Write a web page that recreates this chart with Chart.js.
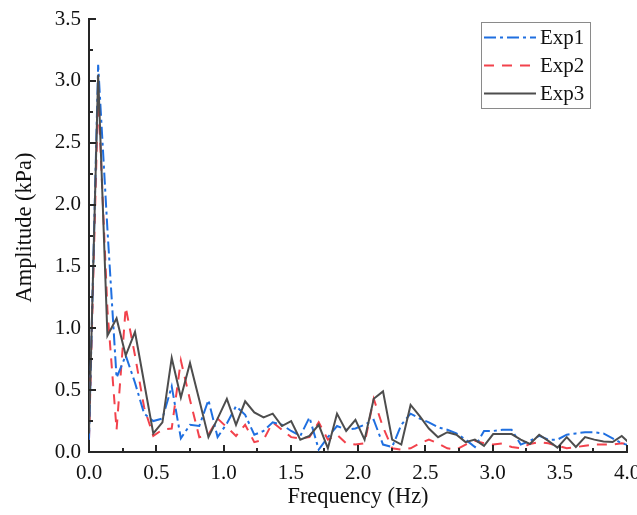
<!DOCTYPE html>
<html>
<head>
<meta charset="utf-8">
<script src="https://cdn.jsdelivr.net/npm/chart.js@4/dist/chart.umd.min.js"></script>
<style>
  html, body { margin: 0; padding: 0; background: #ffffff; }
  #wrap { width: 637px; height: 515px; }
</style>
</head>
<body>
<div id="wrap"><canvas id="c" width="637" height="515"></canvas></div>
<script>
// Frequency bins (Hz) of the amplitude spectra
const freq = [
  0.000, 0.068, 0.137, 0.205, 0.273, 0.342, 0.410, 0.478, 0.546, 0.615,
  0.683, 0.751, 0.820, 0.888, 0.956, 1.025, 1.093, 1.161, 1.229, 1.298,
  1.366, 1.434, 1.503, 1.571, 1.639, 1.708, 1.776, 1.844, 1.912, 1.981,
  2.049, 2.117, 2.186, 2.254, 2.322, 2.391, 2.459, 2.527, 2.595, 2.664,
  2.732, 2.800, 2.869, 2.937, 3.005, 3.074, 3.142, 3.210, 3.278, 3.347,
  3.415, 3.483, 3.552, 3.620, 3.688, 3.757, 3.825, 3.893, 3.961, 4.030
];

// Amplitude (kPa) per experiment
const exp1 = [
  0.10, 3.13, 1.80, 0.60, 0.78, 0.56, 0.31, 0.25, 0.27, 0.53,
  0.11, 0.22, 0.21, 0.42, 0.12, 0.23, 0.37, 0.30, 0.14, 0.17,
  0.24, 0.22, 0.17, 0.13, 0.28, 0.02, 0.12, 0.21, 0.18, 0.19,
  0.22, 0.26, 0.06, 0.04, 0.22, 0.31, 0.27, 0.24, 0.20, 0.18,
  0.15, 0.10, 0.04, 0.17, 0.17, 0.18, 0.18, 0.06, 0.09, 0.13,
  0.10, 0.10, 0.14, 0.15, 0.16, 0.16, 0.15, 0.11, 0.07, 0.05
];
const exp2 = [
  0.10, 2.90, 1.15, 0.18, 1.17, 0.78, 0.36, 0.13, 0.18, 0.19,
  0.74, 0.42, 0.12, 0.14, 0.27, 0.20, 0.13, 0.22, 0.08, 0.10,
  0.24, 0.18, 0.12, 0.11, 0.12, 0.24, 0.10, 0.14, 0.07, 0.06,
  0.07, 0.43, 0.20, 0.03, 0.02, 0.03, 0.07, 0.10, 0.07, 0.03,
  0.02, 0.06, 0.09, 0.07, 0.06, 0.07, 0.04, 0.03, 0.065, 0.08,
  0.07, 0.05, 0.03, 0.04, 0.05, 0.06, 0.06, 0.06, 0.07, 0.06
];
const exp3 = [
  0.15, 3.05, 0.94, 1.08, 0.78, 0.97, 0.56, 0.15, 0.24, 0.76,
  0.44, 0.72, 0.42, 0.12, 0.27, 0.43, 0.22, 0.41, 0.32, 0.28,
  0.31, 0.21, 0.25, 0.10, 0.13, 0.22, 0.03, 0.31, 0.17, 0.26,
  0.10, 0.43, 0.49, 0.10, 0.06, 0.38, 0.29, 0.19, 0.12, 0.16,
  0.14, 0.08, 0.10, 0.05, 0.145, 0.145, 0.145, 0.10, 0.065, 0.14,
  0.09, 0.035, 0.12, 0.04, 0.12, 0.10, 0.085, 0.08, 0.13, 0.06
];

const seriesNames = ['Exp1', 'Exp2', 'Exp3'];
const xTitle = 'Frequency (Hz)';
const yTitle = 'Amplitude (kPa)';
const xRange = [0, 4.0];
const yRange = [0, 3.5];

const toPoints = ys => ys.map((y, i) => ({ x: freq[i], y }));

const FONT = "'Liberation Serif', 'Times New Roman', serif";
const AXIS_COLOR = '#262626';
const TEXT_COLOR = '#111111';

// Inward major/minor tick marks on both axes
const innerTicks = {
  id: 'innerTicks',
  afterDraw(chart) {
    const { ctx, chartArea } = chart;
    ctx.save();
    ctx.strokeStyle = AXIS_COLOR;
    ctx.lineWidth = 2;
    ['x', 'y'].forEach(id => {
      const sc = chart.scales[id];
      const majors = sc.ticks.map(t => t.value);
      const marks = [];
      majors.forEach((v, i) => {
        marks.push({ v, major: true });
        if (i < majors.length - 1) marks.push({ v: (v + majors[i + 1]) / 2, major: false });
      });
      marks.forEach(m => {
        const len = m.major ? 7 : 4;
        const p = Math.round(sc.getPixelForValue(m.v));
        ctx.beginPath();
        if (id === 'x') {
          ctx.moveTo(p, chartArea.bottom);
          ctx.lineTo(p, chartArea.bottom - len);
        } else {
          ctx.moveTo(chartArea.left, p);
          ctx.lineTo(chartArea.left + len, p);
        }
        ctx.stroke();
      });
    });
    ctx.restore();
  }
};

// Vertical axis title, placed a little above the plot's mid-height
const yAxisTitle = {
  id: 'yAxisTitle',
  afterDraw(chart) {
    const { ctx, chartArea } = chart;
    ctx.save();
    ctx.translate(25, (chartArea.top + chartArea.bottom) / 2 - 8);
    ctx.rotate(-Math.PI / 2);
    ctx.font = '22.4px ' + FONT;
    ctx.fillStyle = TEXT_COLOR;
    ctx.textAlign = 'center';
    ctx.textBaseline = 'middle';
    ctx.fillText(yTitle, 0, 0);
    ctx.restore();
  }
};

// Boxed legend in the upper right of the plot
const boxLegend = {
  id: 'boxLegend',
  afterDraw(chart) {
    const { ctx } = chart;
    const box = { x: 481.5, y: 22.5, w: 109, h: 86 };
    ctx.save();
    ctx.fillStyle = '#ffffff';
    ctx.fillRect(box.x, box.y, box.w, box.h);
    ctx.strokeStyle = '#8a8a8a';
    ctx.lineWidth = 1;
    ctx.strokeRect(box.x, box.y, box.w, box.h);
    ctx.font = '21px ' + FONT;
    ctx.textBaseline = 'middle';
    ctx.fillStyle = TEXT_COLOR;
    chart.data.datasets.forEach((ds, i) => {
      const y = 37.5 + i * 28;
      ctx.beginPath();
      ctx.strokeStyle = ds.borderColor;
      ctx.lineWidth = ds.borderWidth;
      ctx.setLineDash(ds.borderDash || []);
      ctx.moveTo(484, y);
      ctx.lineTo(536, y);
      ctx.stroke();
      ctx.setLineDash([]);
      ctx.fillText(ds.label, 540, y + 1);
    });
    ctx.restore();
  }
};

new Chart(document.getElementById('c'), {
  type: 'line',
  data: {
    datasets: [
      { label: seriesNames[0], data: toPoints(exp1), borderColor: '#1f6fe0',
        borderWidth: 2, borderDash: [12, 4, 3, 4], order: 2 },
      { label: seriesNames[1], data: toPoints(exp2), borderColor: '#f2424c',
        borderWidth: 2, borderDash: [10, 8], order: 3 },
      { label: seriesNames[2], data: toPoints(exp3), borderColor: '#4d4d4d',
        borderWidth: 2, order: 1 }
    ]
  },
  options: {
    responsive: false,
    animation: false,
    devicePixelRatio: 1,
    layout: { padding: { top: 19, right: 10, left: 0, bottom: 0 } },
    elements: { point: { radius: 0 }, line: { tension: 0, borderCapStyle: 'butt' } },
    plugins: { legend: { display: false }, tooltip: { enabled: false } },
    scales: {
      x: {
        type: 'linear',
        min: xRange[0], max: xRange[1],
        afterFit(s) { s.height = 63; s.paddingLeft = 0; s.paddingRight = 0; },
        grid: { display: true, drawOnChartArea: false, drawTicks: false },
        border: { display: true, color: AXIS_COLOR, width: 2 },
        ticks: {
          stepSize: 0.5, padding: 9, color: TEXT_COLOR,
          font: { family: FONT, size: 21 },
          maxRotation: 0,
          callback: v => v.toFixed(1)
        },
        title: {
          display: true, text: xTitle, color: TEXT_COLOR,
          font: { family: FONT, size: 22.4 }, padding: { top: 0, bottom: 4 }
        }
      },
      y: {
        min: yRange[0], max: yRange[1],
        afterFit(s) { s.width = 89; s.paddingTop = 0; s.paddingBottom = 0; },
        grid: { display: true, drawOnChartArea: false, drawTicks: false },
        border: { display: true, color: AXIS_COLOR, width: 2 },
        ticks: {
          stepSize: 0.5, padding: 8, color: TEXT_COLOR,
          font: { family: FONT, size: 21 },
          callback: v => v.toFixed(1)
        },
        title: { display: false }
      }
    }
  },
  plugins: [innerTicks, yAxisTitle, boxLegend]
});
</script>
</body>
</html>
